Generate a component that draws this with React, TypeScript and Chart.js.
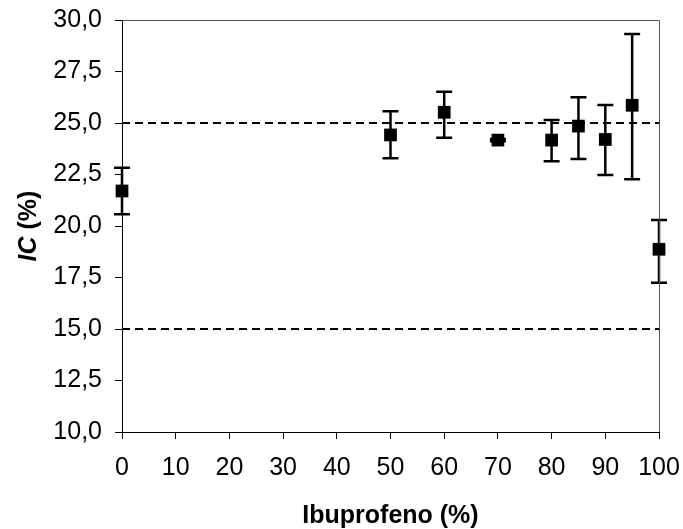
import React, { useEffect, useRef } from "react";
import { Chart, registerables } from "chart.js";

Chart.register(...registerables);

const ibuprofeno = [0, 50, 60, 70, 80, 85, 90, 95, 100];
const icValues = [21.7, 24.42, 25.52, 24.17, 24.17, 24.85, 24.2, 25.86, 18.87];
const icUpper = [22.83, 25.57, 26.52, 24.22, 25.15, 26.25, 25.87, 29.32, 20.29];
const icLower = [20.57, 23.29, 24.29, 24.12, 23.14, 23.25, 22.48, 22.27, 17.25];
const limitHigh = 25;
const limitLow = 15;
const xTicks = [0, 10, 20, 30, 40, 50, 60, 70, 80, 90, 100];
const yTickStep = 2.5;
const xTitle = "Ibuprofeno (%)";
const yTitleItalic = "IC";
const yTitleRest = " (%)";

const FONT = "'Liberation Sans', Arial, Helvetica, sans-serif";

export default function App() {
  const ref = useRef<HTMLCanvasElement | null>(null);

  useEffect(() => {
    if (!ref.current) return;

    const errorBars = {
      id: "errorBars",
      beforeDatasetsDraw(chart: any) {
        const xs = chart.scales.x;
        const ys = chart.scales.y;
        const ctx = chart.ctx;
        ctx.save();
        ctx.strokeStyle = "#000";
        ctx.lineWidth = 2.5;
        const cap = 8;
        ibuprofeno.forEach((xv, i) => {
          const px = xs.getPixelForValue(xv);
          const pt = ys.getPixelForValue(icUpper[i]);
          const pb = ys.getPixelForValue(icLower[i]);
          ctx.beginPath();
          ctx.moveTo(px, pt);
          ctx.lineTo(px, pb);
          ctx.moveTo(px - cap, pt);
          ctx.lineTo(px + cap, pt);
          ctx.moveTo(px - cap, pb);
          ctx.lineTo(px + cap, pb);
          ctx.stroke();
        });
        ctx.restore();
      },
    };

    const frameAndTitles = {
      id: "frameAndTitles",
      beforeDatasetsDraw(chart: any) {
        const ctx = chart.ctx;
        const a = chart.chartArea;
        ctx.save();
        ctx.strokeStyle = "#555";
        ctx.lineWidth = 1;
        ctx.beginPath();
        ctx.moveTo(a.left, a.top + 0.5);
        ctx.lineTo(a.right + 0.5, a.top + 0.5);
        ctx.lineTo(a.right + 0.5, a.bottom);
        ctx.stroke();
        ctx.restore();
      },
      afterDraw(chart: any) {
        const ctx = chart.ctx;
        const a = chart.chartArea;
        ctx.save();
        ctx.fillStyle = "#000";
        ctx.font = `bold 25px ${FONT}`;
        ctx.textAlign = "center";
        ctx.textBaseline = "alphabetic";
        ctx.fillText(xTitle, (a.left + a.right) / 2, 523);

        ctx.translate(36, (a.top + a.bottom) / 2);
        ctx.rotate(-Math.PI / 2);
        ctx.textAlign = "left";
        ctx.font = `italic bold 25px ${FONT}`;
        const w1 = ctx.measureText(yTitleItalic).width;
        ctx.font = `bold 25px ${FONT}`;
        const w2 = ctx.measureText(yTitleRest).width;
        const start = -(w1 + w2) / 2;
        ctx.font = `italic bold 25px ${FONT}`;
        ctx.fillText(yTitleItalic, start, 0);
        ctx.font = `bold 25px ${FONT}`;
        ctx.fillText(yTitleRest, start + w1, 0);
        ctx.restore();
      },
    };

    const zeroPad = (s: any) => {
      s.paddingLeft = 0;
      s.paddingRight = 0;
      s.paddingTop = 0;
      s.paddingBottom = 0;
    };

    const chart = new Chart(ref.current, {
      type: "scatter",
      data: {
        datasets: [
          {
            type: "line",
            data: [
              { x: 0, y: limitHigh },
              { x: 100, y: limitHigh },
            ],
            borderColor: "#000",
            borderWidth: 2,
            borderDash: [8, 5],
            pointRadius: 0,
            fill: false,
          },
          {
            type: "line",
            data: [
              { x: 0, y: limitLow },
              { x: 100, y: limitLow },
            ],
            borderColor: "#000",
            borderWidth: 2,
            borderDash: [8, 5],
            pointRadius: 0,
            fill: false,
          },
          {
            type: "scatter",
            data: ibuprofeno.map((x, i) => ({ x, y: icValues[i] })),
            pointStyle: "rect",
            pointRadius: 9,
            backgroundColor: "#000",
            borderColor: "#000",
            borderWidth: 0,
            clip: false,
          },
        ],
      },
      options: {
        animation: false,
        responsive: false,
        maintainAspectRatio: false,
        layout: { padding: { top: 20, right: 24, left: 0, bottom: 0 } },
        plugins: {
          legend: { display: false },
          tooltip: { enabled: false },
          title: { display: false },
        },
        scales: {
          x: {
            type: "linear",
            min: 0,
            max: 100,
            afterBuildTicks: (s: any) => {
              s.ticks = xTicks.map((v) => ({ value: v }));
            },
            afterFit: (s: any) => {
              s.height = 97;
              zeroPad(s);
            },
            ticks: {
              color: "#000",
              font: { family: FONT, size: 25 },
              padding: 14,
              maxRotation: 0,
              autoSkip: false,
            },
            grid: {
              drawOnChartArea: false,
              drawTicks: true,
              tickLength: 7,
              color: "#000",
            },
            border: { display: true, color: "#000", width: 1 },
          },
          y: {
            type: "linear",
            min: 10,
            max: 30,
            afterFit: (s: any) => {
              s.width = 122;
              zeroPad(s);
            },
            ticks: {
              stepSize: yTickStep,
              color: "#000",
              font: { family: FONT, size: 25 },
              padding: 13,
              callback: (v: any) => Number(v).toFixed(1).replace(".", ","),
            },
            grid: {
              drawOnChartArea: false,
              drawTicks: true,
              tickLength: 7,
              color: "#000",
            },
            border: { display: true, color: "#000", width: 1 },
          },
        },
      },
      plugins: [errorBars, frameAndTitles],
    } as any);

    return () => chart.destroy();
  }, []);

  return (
    <div style={{ position: "fixed", left: 0, top: 0, width: 683, height: 529, background: "#fff" }}>
      <canvas ref={ref} width={683} height={529} style={{ width: 683, height: 529, display: "block" }} />
    </div>
  );
}
